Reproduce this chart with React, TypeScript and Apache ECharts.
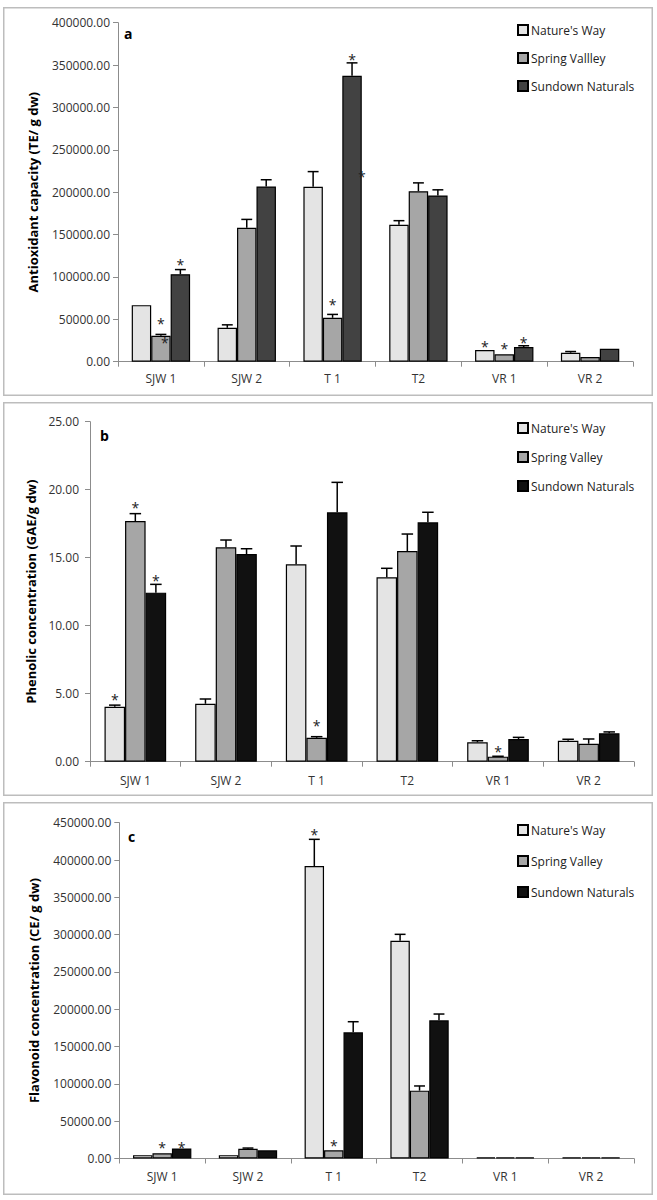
import React, { useEffect, useRef } from 'react';
import * as echarts from 'echarts';

const categories = ['SJW 1', 'SJW 2', 'T 1', 'T2', 'VR 1', 'VR 2'];
const namesA = ["Nature's Way", 'Spring Vallley', 'Sundown Naturals'];
const namesBC = ["Nature's Way", 'Spring Valley', 'Sundown Naturals'];

// Panel a: Antioxidant capacity
const aNatures = [66700, 40000, 206300, 161600, 13800, 10600];
const aSpring = [30600, 158100, 51800, 201200, 8700, 5500];
const aSundown = [103200, 206700, 337300, 196100, 17300, 15300];
const aNaturesErr = [0, 3500, 18000, 4800, 0, 1400];
const aSpringErr = [1600, 9800, 4000, 9800, 0, 0];
const aSundownErr = [5500, 8000, 15300, 6700, 1500, 0];
// stars: [category, series, y value, shift in bar widths]
const aStars = [
  [0, 1, 50200, 0], [0, 1, 27900, 0.2], [0, 2, 119600, 0],
  [2, 1, 72600, 0], [2, 2, 360800, 0], [2, 2, 223200, 0.5],
  [4, 0, 22400, 0], [4, 1, 20800, 0], [4, 2, 27900, 0],
];

// Panel b: Phenolic concentration
const bNatures = [4.04, 4.26, 14.51, 13.56, 1.43, 1.54];
const bSpring = [17.7, 15.76, 1.76, 15.49, 0.37, 1.32];
const bSundown = [12.43, 15.27, 18.34, 17.6, 1.67, 2.09];
const bNaturesErr = [0.12, 0.35, 1.35, 0.66, 0.11, 0.11];
const bSpringErr = [0.54, 0.54, 0.08, 1.25, 0.03, 0.35];
const bSundownErr = [0.61, 0.39, 2.2, 0.74, 0.12, 0.1];
const bStars = [
  [0, 0, 4.9, 0], [0, 1, 19.0, 0], [0, 2, 13.6, 0], [2, 1, 2.99, 0], [4, 1, 1.06, 0],
];

// Panel c: Flavonoid concentration
const cNatures = [4500, 4500, 392000, 291900, 1500, 1500];
const cSpring = [7000, 13000, 11000, 90900, 1500, 1500];
const cSundown = [13500, 11000, 169100, 185200, 1500, 1500];
const cNaturesErr = [0, 0, 35700, 8500, 0, 0];
const cSpringErr = [0, 1000, 0, 6300, 0, 0];
const cSundownErr = [0, 0, 14200, 8400, 0, 0];
const cStars = [
  [0, 1, 20400, 0], [0, 2, 20400, 0], [2, 0, 438900, 0], [2, 1, 22500, 0],
];

const FONT = 'Open Sans';
const GAP = 0.32;

type PanelCfg = {
  letter: string;
  names: string[];
  values: number[][];
  errs: number[][];
  stars: number[][];
  colors: string[];
  max: number;
  interval: number;
  yName: string;
  nameGap: number;
  grid: any;
  labelMarginX: number;
  labelMarginY: number;
  legendTop: number;
  legendGap: number;
  letterPos: number[];
  height: number;
  top: number;
};

function buildOption(p: PanelCfg, width: number) {
  const errData: number[][] = [];
  p.values.forEach((vals, s) => {
    vals.forEach((v, i) => {
      const e = p.errs[s][i];
      if (e > 0) errData.push([i, s, v, e]);
    });
  });
  const series: any[] = p.values.map((vals, s) => ({
    type: 'bar',
    name: p.names[s],
    data: vals,
    barGap: '0%',
    barCategoryGap: GAP * 100 + '%',
    itemStyle: { color: p.colors[s], borderColor: '#000', borderWidth: 1.2 },
  }));
  series.push({
    type: 'custom',
    name: 'err',
    data: errData,
    encode: { x: 0, y: 2 },
    z: 5,
    renderItem: (params: any, api: any) => {
      const cat = api.value(0);
      const s = api.value(1);
      const v = api.value(2);
      const e = api.value(3);
      const band = api.size([1, 0])[0];
      const bw = (band * (1 - GAP)) / 3;
      const c = api.coord([cat, v]);
      const t = api.coord([cat, v + e]);
      const x = c[0] + (s - 1) * bw;
      const cap = bw * 0.28;
      return {
        type: 'group',
        children: [
          { type: 'line', shape: { x1: x, y1: c[1], x2: x, y2: t[1] }, style: { stroke: '#000', lineWidth: 1.5 } },
          { type: 'line', shape: { x1: x - cap, y1: t[1], x2: x + cap, y2: t[1] }, style: { stroke: '#000', lineWidth: 1.5 } },
        ],
      };
    },
  });
  series.push({
    type: 'custom',
    name: 'stars',
    data: p.stars,
    encode: { x: 0, y: 2 },
    z: 6,
    renderItem: (params: any, api: any) => {
      const cat = api.value(0);
      const s = api.value(1);
      const v = api.value(2);
      const shift = api.value(3);
      const band = api.size([1, 0])[0];
      const bw = (band * (1 - GAP)) / 3;
      const c = api.coord([cat, v]);
      const x = c[0] + (s - 1 + shift) * bw;
      return {
        type: 'text',
        x,
        y: c[1] + 4,
        style: {
          text: '*',
          fontSize: 14,
          fontFamily: FONT,
          fill: '#222',
          align: 'center',
          verticalAlign: 'middle',
          textAlign: 'center',
          textVerticalAlign: 'middle',
        },
      };
    },
  });

  return {
    animation: false,
    textStyle: { fontFamily: FONT },
    grid: p.grid,
    legend: {
      orient: 'vertical',
      left: 514,
      top: p.legendTop,
      padding: 0,
      itemWidth: 10,
      itemHeight: 10,
      itemGap: p.legendGap,
      icon: 'rect',
      data: p.names,
      textStyle: { fontFamily: FONT, fontSize: 12, color: '#222', lineHeight: 14, padding: [0, 0, 0, -2] },
    },
    xAxis: {
      type: 'category',
      data: categories,
      axisLine: { lineStyle: { color: '#8c8c8c', width: 1 } },
      axisTick: { show: true, alignWithLabel: false, length: 5, lineStyle: { color: '#8c8c8c' } },
      axisLabel: { fontFamily: FONT, fontSize: 12, color: '#333', margin: p.labelMarginX },
    },
    yAxis: {
      type: 'value',
      min: 0,
      max: p.max,
      interval: p.interval,
      name: p.yName,
      nameLocation: 'middle',
      nameGap: p.nameGap,
      nameTextStyle: { fontFamily: FONT, fontSize: 13, fontWeight: 'bold', color: '#000' },
      splitLine: { show: false },
      axisLine: { show: true, lineStyle: { color: '#8c8c8c', width: 1 } },
      axisTick: { show: true, length: 5, lineStyle: { color: '#8c8c8c' } },
      axisLabel: {
        fontFamily: FONT,
        fontSize: 12,
        color: '#333',
        margin: p.labelMarginY,
        formatter: (v: number) => v.toFixed(2),
      },
    },
    graphic: [
      {
        type: 'rect',
        shape: { x: 0.75, y: 0.75, width: width - 1.5, height: p.height - 1.5 },
        style: { fill: 'none', stroke: '#bdbdbd', lineWidth: 1.5 },
        silent: true,
      },
      {
        type: 'text',
        left: p.letterPos[0],
        top: p.letterPos[1],
        style: { text: p.letter, fontFamily: FONT, fontSize: 14, fontWeight: 'bold', fill: '#000' },
      },
    ],
    series,
  };
}

const WIDTH = 650;

const panels: PanelCfg[] = [
  {
    letter: 'a',
    names: namesA,
    values: [aNatures, aSpring, aSundown],
    errs: [aNaturesErr, aSpringErr, aSundownErr],
    stars: aStars,
    colors: ['#e4e4e4', '#a6a6a6', '#424242'],
    max: 400000,
    interval: 50000,
    yName: 'Antioxidant capacity (TE/ g dw)',
    nameGap: 79,
    grid: { left: 115, right: 20, top: 15.7, bottom: 34.3 },
    labelMarginX: 11,
    labelMarginY: 8,
    legendTop: 16,
    legendGap: 14,
    letterPos: [121, 19],
    height: 389,
    top: 7,
  },
  {
    letter: 'b',
    names: namesBC,
    values: [bNatures, bSpring, bSundown],
    errs: [bNaturesErr, bSpringErr, bSundownErr],
    stars: bStars,
    colors: ['#e4e4e4', '#a6a6a6', '#111111'],
    max: 25,
    interval: 5,
    yName: 'Phenolic concentration (GAE/g dw)',
    nameGap: 49,
    grid: { left: 87, right: 19, top: 19.7, bottom: 34.3 },
    labelMarginX: 13,
    labelMarginY: 11,
    legendTop: 19,
    legendGap: 15,
    letterPos: [97, 26],
    height: 394,
    top: 402,
  },
  {
    letter: 'c',
    names: namesBC,
    values: [cNatures, cSpring, cSundown],
    errs: [cNaturesErr, cSpringErr, cSundownErr],
    stars: cStars,
    colors: ['#e4e4e4', '#a6a6a6', '#111111'],
    max: 450000,
    interval: 50000,
    yName: 'Flavonoid concentration (CE/ g dw)',
    nameGap: 79,
    grid: { left: 116.3, right: 19, top: 20.7, bottom: 36.5 },
    labelMarginX: 12,
    labelMarginY: 8,
    legendTop: 21,
    legendGap: 17,
    letterPos: [125, 27],
    height: 393,
    top: 802,
  },
];

function Panel({ cfg }: { cfg: PanelCfg }) {
  const ref = useRef<HTMLDivElement>(null);
  useEffect(() => {
    if (!ref.current) return;
    const chart = echarts.init(ref.current, undefined, { renderer: 'svg' });
    chart.setOption(buildOption(cfg, WIDTH));
    return () => chart.dispose();
  }, [cfg]);
  return (
    <div
      ref={ref}
      style={{ position: 'absolute', left: 3, top: cfg.top, width: WIDTH, height: cfg.height }}
    />
  );
}

export default function App() {
  return (
    <div style={{ position: 'absolute', left: 0, top: 0, width: 657, height: 1200, background: '#fff' }}>
      {panels.map((p) => (
        <Panel key={p.letter} cfg={p} />
      ))}
    </div>
  );
}
